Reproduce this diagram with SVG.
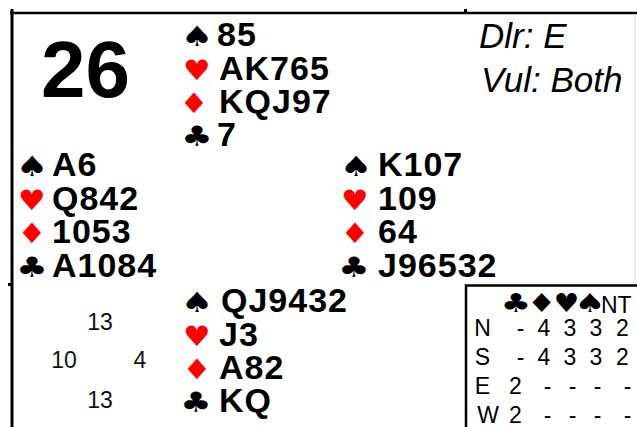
<svg xmlns="http://www.w3.org/2000/svg" width="637" height="427" viewBox="0 0 637 427">
<style>
.hand{font-family:"Liberation Sans",Arial,sans-serif;font-weight:bold;font-size:34px;letter-spacing:1px;fill:#000}
.suit{font-family:"DejaVu Sans",sans-serif;font-size:28px;text-anchor:middle}
.blk{fill:#000}
.red{fill:#ff0000}
.info{font-family:"Liberation Sans",Arial,sans-serif;font-style:italic;font-size:35px;fill:#000}
.tbl{font-family:"Liberation Sans",Arial,sans-serif;font-size:23px;fill:#000;text-anchor:middle}
.hcp{font-family:"Liberation Sans",Arial,sans-serif;font-size:23px;fill:#111;text-anchor:middle}
.tsuit{font-family:"DejaVu Sans",sans-serif;font-size:26px;fill:#000;text-anchor:middle}
</style>
<rect width="637" height="427" fill="#fff"/>
<g id="frame">
<line x1="10" y1="13" x2="637" y2="13" stroke="#000" stroke-width="2.5"/>
<line x1="12" y1="9" x2="12" y2="427" stroke="#000" stroke-width="3"/>
<rect x="464" y="9" width="3" height="4" fill="#000"/>
<rect x="8" y="283" width="4" height="3" fill="#000"/>
<line x1="635" y1="14" x2="635" y2="284" stroke="#d0d0d0" stroke-width="1"/>
</g>
<g id="board">
<text x="41" y="97" font-family="Liberation Sans,Arial,sans-serif" font-weight="bold" font-size="80">26</text>
</g>
<g id="info">
<text class="info" x="479" y="48">Dlr: E</text>
<text class="info" x="481" y="92">Vul: Both</text>
</g>
<g id="north">
<text class="suit blk" transform="translate(197,46) scale(1.3,1)">♠</text>
<text class="suit red" transform="translate(197,80) scale(1.1,1)">♥</text>
<text class="suit red" transform="translate(194,113) scale(1.15,1)">♦</text>
<text class="suit blk" transform="translate(197,146) scale(1.25,1)">♣</text>
<text class="hand" x="217" y="46">85</text>
<text class="hand" x="219" y="80">AK765</text>
<text class="hand" x="219" y="113">KQJ97</text>
<text class="hand" x="217" y="146">7</text>
</g>
<g id="west">
<text class="suit blk" transform="translate(32,176) scale(1.3,1)">♠</text>
<text class="suit red" transform="translate(32,210) scale(1.1,1)">♥</text>
<text class="suit red" transform="translate(32,243) scale(1.15,1)">♦</text>
<text class="suit blk" transform="translate(32,277) scale(1.25,1)">♣</text>
<text class="hand" x="52" y="176">A6</text>
<text class="hand" x="52" y="210">Q842</text>
<text class="hand" x="52" y="243">1053</text>
<text class="hand" x="52" y="277">A1084</text>
</g>
<g id="east">
<text class="suit blk" transform="translate(356,176) scale(1.3,1)">♠</text>
<text class="suit red" transform="translate(355,210) scale(1.1,1)">♥</text>
<text class="suit red" transform="translate(355,243) scale(1.15,1)">♦</text>
<text class="suit blk" transform="translate(354,277) scale(1.25,1)">♣</text>
<text class="hand" x="378" y="176">K107</text>
<text class="hand" x="378" y="210">109</text>
<text class="hand" x="378" y="243">64</text>
<text class="hand" x="378" y="277">J96532</text>
</g>
<g id="south">
<text class="suit blk" transform="translate(197,312) scale(1.3,1)">♠</text>
<text class="suit red" transform="translate(197,346) scale(1.1,1)">♥</text>
<text class="suit red" transform="translate(197,379) scale(1.15,1)">♦</text>
<text class="suit blk" transform="translate(196,412) scale(1.25,1)">♣</text>
<text class="hand" x="221" y="312">QJ9432</text>
<text class="hand" x="219" y="346">J3</text>
<text class="hand" x="219" y="379">A82</text>
<text class="hand" x="219" y="412">KQ</text>
</g>
<g id="hcp">
<text class="hcp" x="100" y="330">13</text>
<text class="hcp" x="64" y="368">10</text>
<text class="hcp" x="140" y="368">4</text>
<text class="hcp" x="100" y="408">13</text>
</g>
<g id="tricks">
<path d="M466 427 V285.5 H637" fill="none" stroke="#000" stroke-width="2.5"/>
<text class="tsuit" transform="translate(516,312) scale(1.3,1)">♣</text>
<text class="tsuit" transform="translate(541.5,312) scale(1.25,1)">♦</text>
<text class="tsuit" transform="translate(566.5,312) scale(1.1,1)">♥</text>
<text class="tsuit" transform="translate(590,312) scale(1.35,1)">♠</text>
<text x="601" y="313" font-family="Liberation Sans,Arial,sans-serif" font-size="23" fill="#000">NT</text>
<text class="tbl" x="482.5" y="336">N</text>
<text class="tbl" x="520.5" y="336">-</text>
<text class="tbl" x="544" y="336">4</text>
<text class="tbl" x="570" y="336">3</text>
<text class="tbl" x="596" y="336">3</text>
<text class="tbl" x="622.5" y="336">2</text>
<text class="tbl" x="482.5" y="365">S</text>
<text class="tbl" x="520.5" y="365">-</text>
<text class="tbl" x="544" y="365">4</text>
<text class="tbl" x="570" y="365">3</text>
<text class="tbl" x="596" y="365">3</text>
<text class="tbl" x="622.5" y="365">2</text>
<text class="tbl" x="482.5" y="394">E</text>
<text class="tbl" x="515.5" y="394">2</text>
<text class="tbl" x="547.5" y="394">-</text>
<text class="tbl" x="572.5" y="394">-</text>
<text class="tbl" x="597.5" y="394">-</text>
<text class="tbl" x="627.5" y="394">-</text>
<text class="tbl" x="488" y="423">W</text>
<text class="tbl" x="515.5" y="423">2</text>
<text class="tbl" x="547.5" y="423">-</text>
<text class="tbl" x="572.5" y="423">-</text>
<text class="tbl" x="597.5" y="423">-</text>
<text class="tbl" x="627.5" y="423">-</text>
</g>
</svg>
